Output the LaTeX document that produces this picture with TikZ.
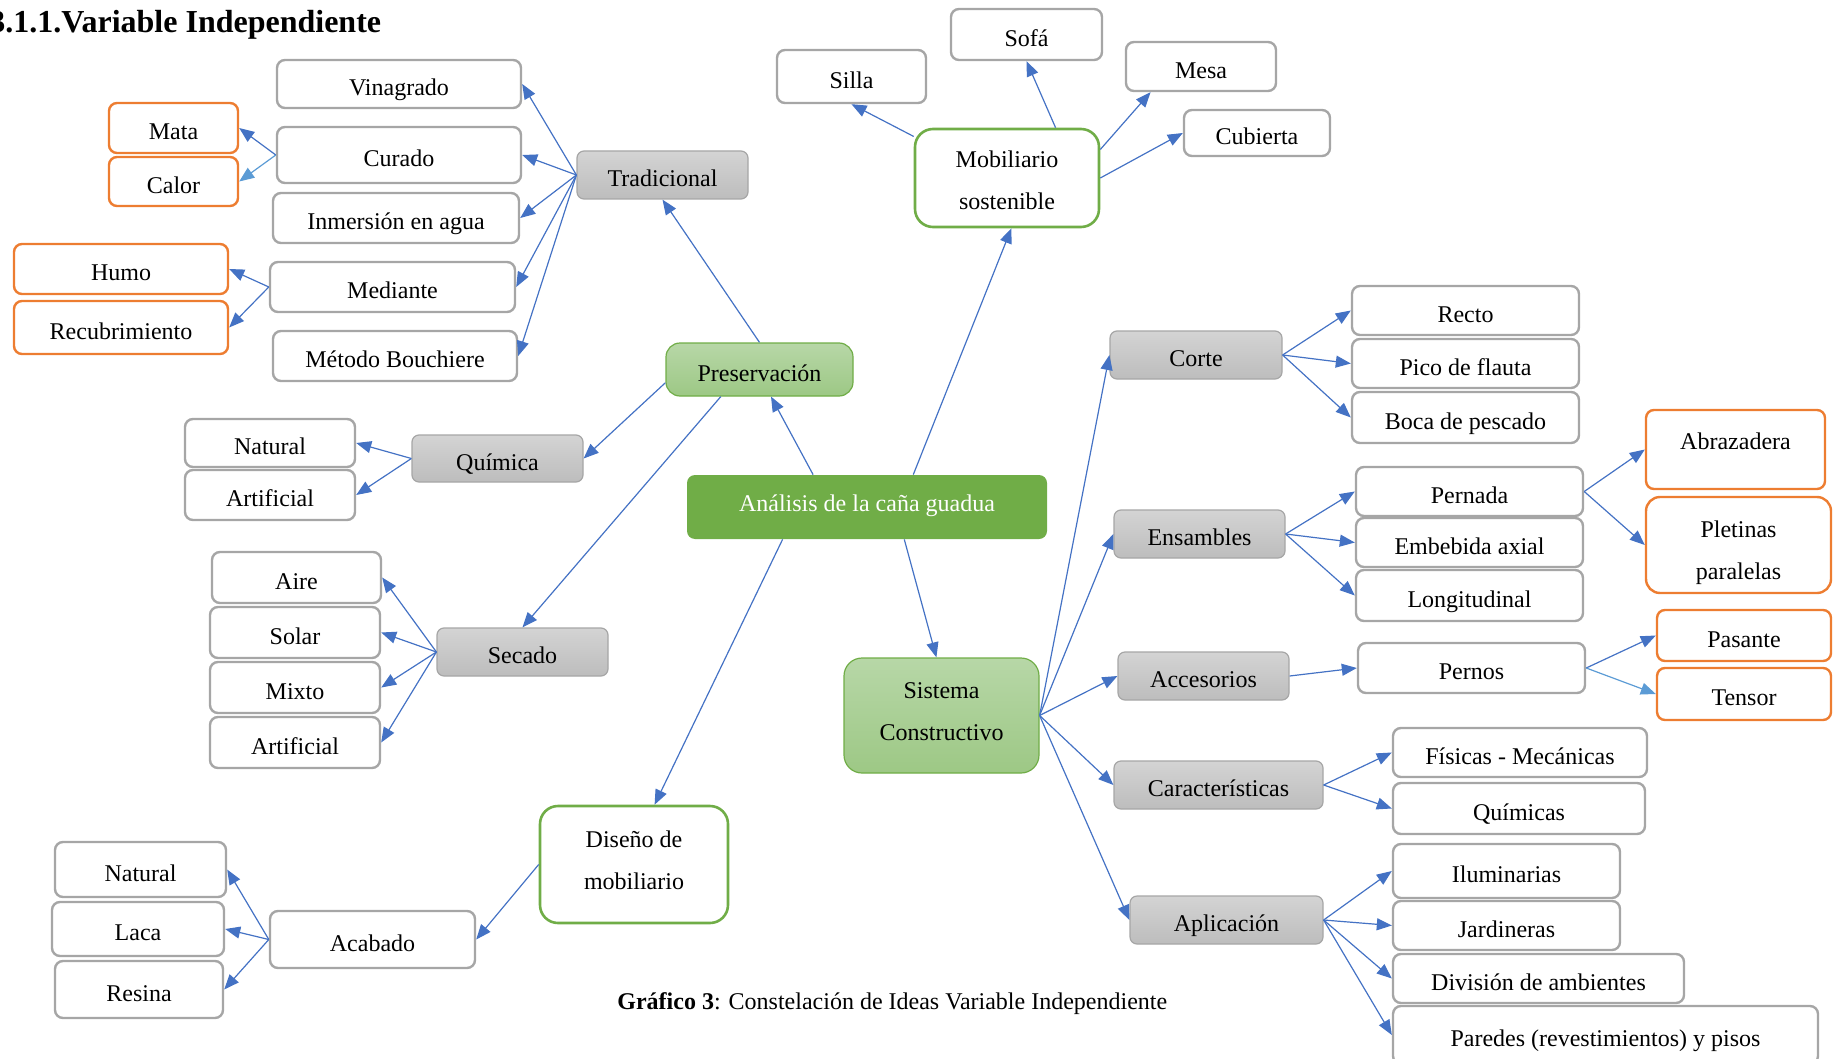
\documentclass[tikz,border=0pt]{standalone}
\usepackage{fontspec}
\setmainfont{Liberation Serif}
\usepackage{tikz}
\usetikzlibrary{arrows.meta, positioning}
\definecolor{cnblue}{RGB}{68,114,196}
\definecolor{cnlblue}{RGB}{91,155,213}
\definecolor{cngreen}{RGB}{112,173,71}
\definecolor{cnlgreen}{RGB}{183,215,167}
\definecolor{cnmgreen}{RGB}{157,200,133}
\definecolor{cnorange}{RGB}{237,125,49}
\definecolor{cngray}{RGB}{166,166,166}
% two lines, first line on the baseline
\newcommand{\cnpair}[2]{\begin{tabular}[t]{@{}c@{}}#1\\#2\end{tabular}}

\begin{document}
\begin{tikzpicture}[x=0.5pt, y=-0.5pt,
    frame/.style={inner sep=0pt, font=\fontsize{12}{21}\selectfont,
                  text height=3.15ex, text depth=0.55ex},
    frame2/.style={inner sep=0pt, font=\fontsize{12}{21}\selectfont},
    orange/.style={draw=cnorange, line width=1.2pt, fill=white, rounded corners=4pt},
    greenfill/.style={draw=cngreen, line width=0.6pt, top color=cnlgreen,
                      bottom color=cnmgreen, rounded corners=7pt},
    leaf/.style={frame, draw=cngray, line width=1.2pt, fill=white, rounded corners=4pt},
    extra/.style={frame, orange},
    branch/.style={frame, draw=cngray, line width=0.6pt, top color=black!17,
                   bottom color=black!26, rounded corners=3.5pt},
    ring/.style={frame2, draw=cngreen, line width=1.3pt, fill=white, rounded corners=9pt},
    link/.style={cnblue, line width=0.6pt, -{Triangle[length=7.5pt, width=6pt]}},
  ]
\useasboundingbox (0,0) rectangle (1835,1059);

%% TITLE AND CAPTION
\node[anchor=base west, inner sep=0pt, font=\fontsize{16}{19}\selectfont\bfseries]
  (title) at (-11,33) {3.1.1.Variable Independiente};
\node[anchor=base west, inner sep=0pt, font=\fontsize{12}{14}\selectfont]
  (caption) at (617,1009) {\textbf{Gráfico 3}: Constelación de Ideas Variable Independiente};

%% CENTRE
\node[frame, fill=cngreen, text=white, rounded corners=4pt, text height=1.5ex,
      minimum width=180pt, minimum height=32pt] (ana) at (867,507)
  {Análisis de la caña guadua};
\node[frame, greenfill, minimum width=93.5pt, minimum height=26.5pt] (pres)
  at (759.5,369.5) {Preservación};
\node[frame2, greenfill, rounded corners=9pt, text height=20pt, text depth=37.5pt,
      minimum width=97.5pt, minimum height=57.5pt] (sis) at (941.5,715.5)
  {\cnpair{Sistema}{Constructivo}};
\node[ring, text height=19.5pt, text depth=29.5pt, minimum width=92pt,
      minimum height=49pt] (mob) at (1007,178) {\cnpair{Mobiliario}{sostenible}};
\node[ring, text height=20.5pt, text depth=38pt, minimum width=94pt,
      minimum height=58.5pt] (dise) at (634,864.5) {\cnpair{Diseño de}{mobiliario}};

%% PRESERVACION – tradicional
\node[branch, minimum width=85.5pt, minimum height=24pt] (trad) at (662.5,175) {Tradicional};
\node[leaf, minimum width=122pt, minimum height=24pt]   (vina) at (399,84)    {Vinagrado};
\node[leaf, minimum width=122pt, minimum height=28pt]   (cura) at (399,155)   {Curado};
\node[leaf, minimum width=123pt, minimum height=25pt]   (inme) at (396,218)   {Inmersión en agua};
\node[leaf, minimum width=122.5pt, minimum height=25pt] (medi) at (392.5,287) {Mediante};
\node[leaf, minimum width=122pt, minimum height=25pt]   (meto) at (395,356)   {Método Bouchiere};
\node[extra, minimum width=64.5pt, minimum height=25pt]   (mata) at (173.5,128)   {Mata};
\node[extra, minimum width=64.5pt, minimum height=24.5pt] (calo) at (173.5,181.5) {Calor};
\node[extra, minimum width=107pt, minimum height=25pt]    (humo) at (121,269)     {Humo};
\node[extra, minimum width=107pt, minimum height=26.5pt]  (recu) at (121,327.5)   {Recubrimiento};

%% PRESERVACION – quimica y secado
\node[branch, minimum width=85.5pt, minimum height=23.5pt] (quim) at (497.5,458.5) {Química};
\node[leaf, minimum width=85pt, minimum height=24pt] (qnat) at (270,443) {Natural};
\node[leaf, minimum width=85pt, minimum height=25pt] (qart) at (270,495) {Artificial};
\node[branch, minimum width=85.5pt, minimum height=24pt] (seca) at (522.5,652) {Secado};
\node[leaf, minimum width=84.5pt, minimum height=25.5pt] (aire) at (296.5,577.5) {Aire};
\node[leaf, minimum width=85pt, minimum height=25.5pt]   (sola) at (295,632.5)   {Solar};
\node[leaf, minimum width=85pt, minimum height=25.5pt]   (mixt) at (295,687.5)   {Mixto};
\node[leaf, minimum width=85pt, minimum height=25.5pt]   (sart) at (295,742.5)   {Artificial};

%% MOBILIARIO
\node[leaf, minimum width=74.5pt, minimum height=26.5pt] (silla) at (851.5,76.5) {Silla};
\node[leaf, minimum width=75.5pt, minimum height=25.5pt] (sofa) at (1026.5,34.5) {Sofá};
\node[leaf, minimum width=75pt, minimum height=24.5pt]   (mesa) at (1201,66.5)   {Mesa};
\node[leaf, minimum width=73pt, minimum height=23pt]     (cubi) at (1257,133)    {Cubierta};

%% DISENO
\node[leaf, minimum width=102.5pt, minimum height=28.5pt] (acab) at (372.5,939.5) {Acabado};
\node[leaf, minimum width=85.5pt, minimum height=27.5pt]  (anat) at (140.5,869.5) {Natural};
\node[leaf, minimum width=86pt, minimum height=27pt]      (laca) at (138,929)     {Laca};
\node[leaf, minimum width=84pt, minimum height=28.5pt]    (resi) at (139,989.5)   {Resina};

%% SISTEMA CONSTRUCTIVO
\node[branch, minimum width=86pt, minimum height=24pt] (cort) at (1196,355) {Corte};
\node[leaf, minimum width=113.5pt, minimum height=24.5pt] (rect) at (1465.5,310.5) {Recto};
\node[leaf, minimum width=113.5pt, minimum height=24.5pt] (pico) at (1465.5,363.5) {Pico de flauta};
\node[leaf, minimum width=113.5pt, minimum height=25.5pt] (boca) at (1465.5,417.5) {Boca de pescado};
\node[branch, minimum width=85.5pt, minimum height=24pt] (ensa) at (1199.5,534) {Ensambles};
\node[leaf, minimum width=113.5pt, minimum height=24.5pt] (pern) at (1469.5,491.5) {Pernada};
\node[leaf, minimum width=113.5pt, minimum height=24.5pt] (embe) at (1469.5,542.5) {Embebida axial};
\node[leaf, minimum width=113.5pt, minimum height=25.5pt] (long) at (1469.5,595.5) {Longitudinal};
\node[extra, text height=1.5ex, text depth=1.4ex, minimum width=89.5pt,
      minimum height=39.5pt] (abra) at (1735.5,449.5) {Abrazadera};
\node[frame2, orange, rounded corners=7pt, text height=20pt, text depth=28pt,
      minimum width=92.5pt, minimum height=48pt] (plet) at (1738.5,545)
  {\cnpair{Pletinas}{paralelas}};
\node[branch, minimum width=85.5pt, minimum height=24pt] (acce) at (1203.5,676) {Accesorios};
\node[leaf, minimum width=113.5pt, minimum height=25pt] (perno) at (1471.5,668) {Pernos};
\node[extra, minimum width=87pt, minimum height=25.5pt] (pasa) at (1744,635.5) {Pasante};
\node[extra, minimum width=87pt, minimum height=26pt]   (tens) at (1744,694)   {Tensor};
\node[branch, minimum width=104.5pt, minimum height=24pt] (cara) at (1218.5,785) {Características};
\node[leaf, minimum width=127pt, minimum height=24.5pt] (fisi) at (1520,752.5)  {Físicas - Mecánicas};
\node[leaf, minimum width=126pt, minimum height=25.5pt] (quimi) at (1519,808.5) {Químicas};
\node[branch, minimum width=96.5pt, minimum height=24pt] (apli) at (1226.5,920) {Aplicación};
\node[leaf, minimum width=113.5pt, minimum height=27pt]   (ilum) at (1506.5,871)   {Iluminarias};
\node[leaf, minimum width=113.5pt, minimum height=24.5pt] (jard) at (1506.5,925.5) {Jardineras};
\node[leaf, minimum width=145.5pt, minimum height=24.5pt] (divi) at (1538.5,978.5) {División de ambientes};
\node[leaf, minimum width=212.5pt, minimum height=29pt]   (pare) at (1605.5,1035)  {Paredes (revestimientos) y pisos};

%% CONNECTORS – centre
\draw[link] (ana.149) -- (pres.293);
\draw[link] (ana.35)  -- (mob.275);
\draw[link] (ana.201) -- (dise.71);
\draw[link] (ana.319) -- (sis.95);

%% CONNECTORS – preservacion
\draw[link] (pres.north) -- (trad.south);
\draw[link] (pres.188)   -- (quim.east);
\draw[link] (pres.215)   -- (seca.north);
\draw[link] (trad.west) -- (vina.east);
\draw[link] (trad.west) -- (cura.east);
\draw[link] (trad.west) -- (inme.east);
\draw[link] (trad.west) -- (medi.east);
\draw[link] (trad.west) -- (meto.east);
\draw[link] (cura.west) -- (mata.east);
\draw[link, cnlblue] (cura.west) -- (calo.east);
\draw[link] (medi.west) -- (humo.east);
\draw[link] (medi.west) -- (recu.east);
\draw[link] (quim.west) -- (qnat.east);
\draw[link] (quim.west) -- (qart.east);
\draw[link] (seca.west) -- (aire.east);
\draw[link] (seca.west) -- (sola.east);
\draw[link] (seca.west) -- (mixt.east);
\draw[link] (seca.west) -- (sart.east);

%% CONNECTORS – mobiliario y diseno
\draw[link] (mob.156) -- (silla.south);
\draw[link] (mob.46)  -- (sofa.south);
\draw[link] (mob.17)  -- (mesa.207);
\draw[link] (mob.east) -- (cubi.west);
\draw[link] (dise.west) -- (acab.east);
\draw[link] (acab.west) -- (anat.east);
\draw[link] (acab.west) -- (laca.east);
\draw[link] (acab.west) -- (resi.east);

%% CONNECTORS – sistema constructivo
\draw[link] (sis.east) -- (cort.west);
\draw[link] (sis.east) -- (ensa.west);
\draw[link] (sis.east) -- (acce.west);
\draw[link] (sis.east) -- (cara.west);
\draw[link] (sis.east) -- (apli.west);
\draw[link] (cort.east) -- (rect.west);
\draw[link] (cort.east) -- (pico.west);
\draw[link] (cort.east) -- (boca.west);
\draw[link] (ensa.east) -- (pern.west);
\draw[link] (ensa.east) -- (embe.west);
\draw[link] (ensa.east) -- (long.west);
\draw[link] (pern.east) -- (abra.west);
\draw[link] (pern.east) -- (plet.west);
\draw[link] (acce.east) -- (perno.west);
\draw[link] (perno.east) -- (pasa.west);
\draw[link, cnlblue] (perno.east) -- (tens.west);
\draw[link] (cara.east) -- (fisi.west);
\draw[link] (cara.east) -- (quimi.west);
\draw[link] (apli.east) -- (ilum.west);
\draw[link] (apli.east) -- (jard.west);
\draw[link] (apli.east) -- (divi.west);
\draw[link] (apli.east) -- (pare.west);
\end{tikzpicture}
\end{document}
